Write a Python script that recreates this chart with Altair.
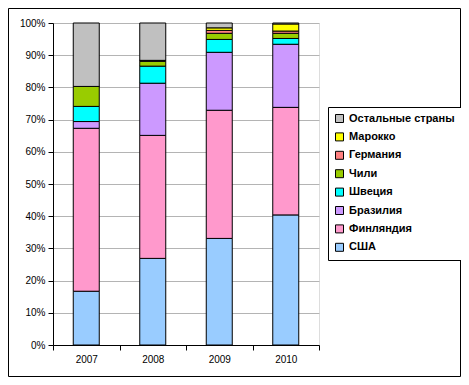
import altair as alt
import pandas as pd

years = ["2007", "2008", "2009", "2010"]
series = ["Остальные страны", "Марокко", "Германия", "Чили", "Швеция", "Бразилия", "Финляндия", "США"]
colors = ["#C0C0C0", "#FFFF00", "#FF8080", "#99CC00", "#00FFFF", "#CC99FF", "#FF99CC", "#99CCFF"]

usa     = [16.7, 26.9, 33.1, 40.4]
finland = [50.6, 38.2, 39.8, 33.4]
brazil  = [2.1, 16.2, 18.0, 19.6]
sweden  = [4.7, 5.3, 4.0, 1.8]
chile   = [6.2, 1.5, 1.9, 1.6]
germany = [0.0, 0.3, 0.9, 0.7]
morocco = [0.0, 0.0, 0.8, 2.2]
others  = [19.7, 11.6, 1.5, 0.3]

values = {
    "США": usa, "Финляндия": finland, "Бразилия": brazil, "Швеция": sweden,
    "Чили": chile, "Германия": germany, "Марокко": morocco, "Остальные страны": others,
}
stack_order = ["США", "Финляндия", "Бразилия", "Швеция", "Чили", "Германия", "Марокко", "Остальные страны"]

rows = []
for s in stack_order:
    for i, y in enumerate(years):
        rows.append({"year": y, "country": s, "value": values[s][i], "ord": stack_order.index(s)})
df = pd.DataFrame(rows)

W, H = 266, 322
PL, PT, PR, PB = 45, 15, 142, 32

bars = alt.Chart(df).mark_bar(size=26, stroke="black", strokeWidth=1).encode(
    x=alt.X("year:N", sort=years, title=None,
            scale=alt.Scale(paddingInner=0, paddingOuter=0),
            axis=alt.Axis(labelAngle=0, tickBand="extent", tickSize=5, labelPadding=4,
                          domainColor="black", tickColor="black", labelFontSize=10,
                          labelFont="Liberation Sans", labelColor="black", grid=False)),
    y=alt.Y("value:Q", stack="normalize", title=None,
            scale=alt.Scale(domain=[0, 1]),
            axis=alt.Axis(format=".0%", values=[i / 10 for i in range(11)], tickSize=5,
                          labelPadding=3, domainColor="black", tickColor="black",
                          labelFontSize=10, labelFont="Liberation Sans", labelColor="black",
                          grid=True, gridColor="#B4B4B4", gridWidth=1)),
    color=alt.Color("country:N", scale=alt.Scale(domain=series, range=colors),
                    legend=alt.Legend(title=None, orient="none", legendX=275, legendY=84,
                                      symbolType="square", symbolSize=64,
                                      symbolStrokeColor="black", symbolStrokeWidth=1,
                                      labelFont="Liberation Sans", labelFontSize=11,
                                      labelFontWeight="bold", labelColor="black",
                                      rowPadding=5.4, padding=6, strokeColor="black",
                                      fillColor="white", labelLimit=200)),
    order=alt.Order("ord:Q", sort="ascending"),
)

frame = alt.Chart(pd.DataFrame({"a": [0]})).mark_rect(
    fill=None, stroke="black", strokeWidth=1
).encode(
    x=alt.value(-PL + 0.5), x2=alt.value(W + PR - 0.5),
    y=alt.value(-PT + 0.5), y2=alt.value(H + PB - 0.5),
)

chart = alt.layer(frame, bars).properties(
    width=W, height=H,
    autosize=alt.AutoSizeParams(type="none"),
    padding={"left": PL, "top": PT, "right": PR, "bottom": PB},
).configure_view(stroke=None).configure(background="white")

chart.save("out.html", embed_options={"renderer": "svg", "actions": False})
